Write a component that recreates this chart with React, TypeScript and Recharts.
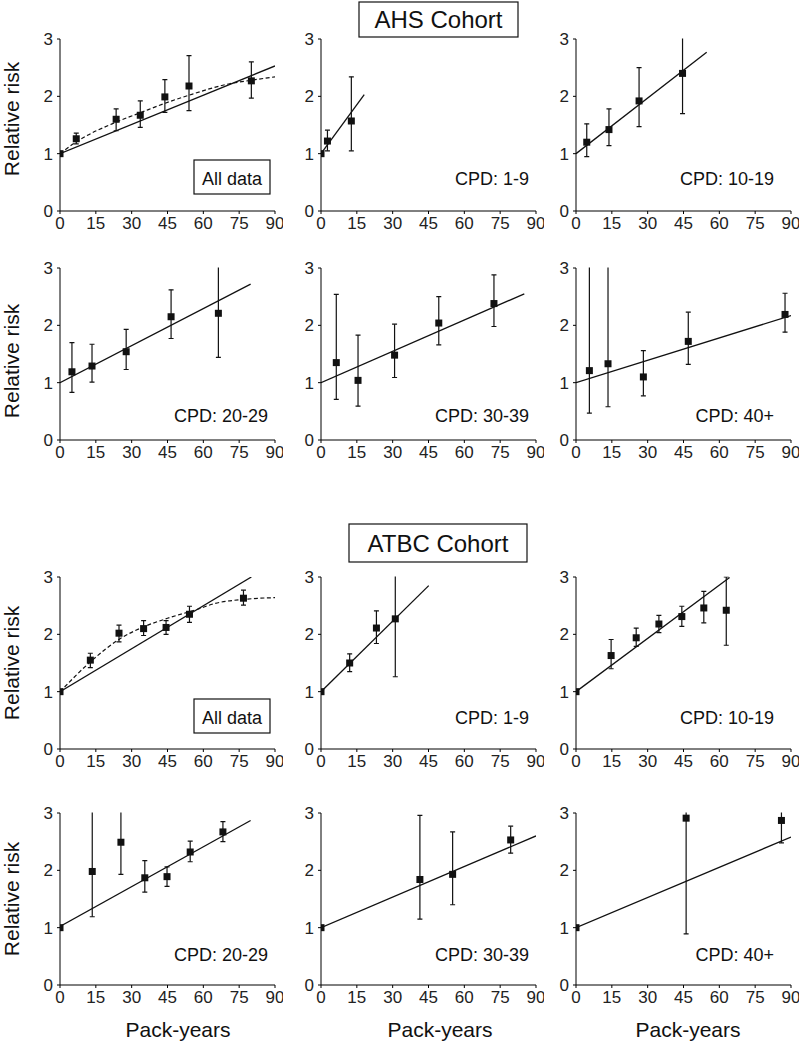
import React from "react";
import { ComposedChart, ErrorBar, Line, Scatter, XAxis, YAxis } from "recharts";

type Pt = { py: number; rr: number; lo?: number; hi?: number };
type XY = { py: number; rr: number };

// --- AHS cohort ---
const ahsAll: Pt[] = [
  { py: 6.8, rr: 1.26, lo: 1.17, hi: 1.36 },
  { py: 23.5, rr: 1.6, lo: 1.4, hi: 1.78 },
  { py: 33.6, rr: 1.67, lo: 1.46, hi: 1.92 },
  { py: 43.9, rr: 1.99, lo: 1.72, hi: 2.29 },
  { py: 54.0, rr: 2.18, lo: 1.75, hi: 2.71 },
  { py: 80.1, rr: 2.27, lo: 1.97, hi: 2.6 },
];
const ahsAllFit: XY[] = [{ py: 0, rr: 1 }, { py: 90, rr: 2.53 }];
const ahsAllCurve: XY[] = [
  { py: 0, rr: 1 }, { py: 7, rr: 1.21 }, { py: 23.5, rr: 1.55 }, { py: 34, rr: 1.72 },
  { py: 44, rr: 1.88 }, { py: 54, rr: 2.02 }, { py: 71, rr: 2.22 }, { py: 80, rr: 2.28 },
  { py: 90, rr: 2.34 },
];

const ahs1to9: Pt[] = [
  { py: 2.7, rr: 1.22, lo: 1.05, hi: 1.41 },
  { py: 12.7, rr: 1.57, lo: 1.05, hi: 2.34 },
];
const ahs1to9Fit: XY[] = [{ py: 0, rr: 1 }, { py: 18.1, rr: 2.03 }];

const ahs10to19: Pt[] = [
  { py: 4.5, rr: 1.2, lo: 0.95, hi: 1.52 },
  { py: 13.8, rr: 1.42, lo: 1.14, hi: 1.78 },
  { py: 26.4, rr: 1.92, lo: 1.47, hi: 2.5 },
  { py: 44.6, rr: 2.4, lo: 1.7, hi: 3.4 },
];
const ahs10to19Fit: XY[] = [{ py: 0, rr: 1 }, { py: 54.7, rr: 2.77 }];

const ahs20to29: Pt[] = [
  { py: 5.0, rr: 1.19, lo: 0.83, hi: 1.7 },
  { py: 13.4, rr: 1.29, lo: 1.01, hi: 1.67 },
  { py: 27.7, rr: 1.54, lo: 1.23, hi: 1.93 },
  { py: 46.5, rr: 2.15, lo: 1.77, hi: 2.62 },
  { py: 66.3, rr: 2.21, lo: 1.44, hi: 3.4 },
];
const ahs20to29Fit: XY[] = [{ py: 0, rr: 1 }, { py: 79.8, rr: 2.72 }];

const ahs30to39: Pt[] = [
  { py: 6.4, rr: 1.35, lo: 0.71, hi: 2.54 },
  { py: 15.5, rr: 1.04, lo: 0.59, hi: 1.83 },
  { py: 30.8, rr: 1.48, lo: 1.09, hi: 2.02 },
  { py: 49.3, rr: 2.04, lo: 1.66, hi: 2.5 },
  { py: 72.4, rr: 2.38, lo: 1.98, hi: 2.88 },
];
const ahs30to39Fit: XY[] = [{ py: 0, rr: 1 }, { py: 85.1, rr: 2.55 }];

const ahs40plus: Pt[] = [
  { py: 5.6, rr: 1.21, lo: 0.47, hi: 3.6 },
  { py: 13.4, rr: 1.33, lo: 0.58, hi: 3.6 },
  { py: 28.2, rr: 1.1, lo: 0.77, hi: 1.56 },
  { py: 47.0, rr: 1.72, lo: 1.32, hi: 2.23 },
  { py: 87.5, rr: 2.19, lo: 1.88, hi: 2.56 },
];
const ahs40plusFit: XY[] = [{ py: 0, rr: 1 }, { py: 90, rr: 2.17 }];

// --- ATBC cohort ---
const atbcAll: Pt[] = [
  { py: 12.7, rr: 1.55, lo: 1.42, hi: 1.67 },
  { py: 24.7, rr: 2.02, lo: 1.87, hi: 2.16 },
  { py: 35.0, rr: 2.1, lo: 1.98, hi: 2.24 },
  { py: 44.4, rr: 2.12, lo: 2.0, hi: 2.24 },
  { py: 54.2, rr: 2.35, lo: 2.21, hi: 2.49 },
  { py: 76.8, rr: 2.63, lo: 2.51, hi: 2.77 },
];
const atbcAllFit: XY[] = [{ py: 0, rr: 1 }, { py: 80.1, rr: 3.0 }];
const atbcAllCurve: XY[] = [
  { py: 0, rr: 1 }, { py: 13, rr: 1.53 }, { py: 25, rr: 1.92 }, { py: 35, rr: 2.13 },
  { py: 45, rr: 2.28 }, { py: 57, rr: 2.43 }, { py: 65, rr: 2.54 }, { py: 77, rr: 2.61 },
  { py: 90, rr: 2.64 },
];

const atbc1to9: Pt[] = [
  { py: 12.0, rr: 1.5, lo: 1.35, hi: 1.66 },
  { py: 23.2, rr: 2.11, lo: 1.84, hi: 2.41 },
  { py: 31.1, rr: 2.27, lo: 1.26, hi: 3.5 },
];
const atbc1to9Fit: XY[] = [{ py: 0, rr: 1 }, { py: 45.1, rr: 2.85 }];

const atbc10to19: Pt[] = [
  { py: 14.7, rr: 1.63, lo: 1.4, hi: 1.91 },
  { py: 25.2, rr: 1.94, lo: 1.79, hi: 2.11 },
  { py: 34.7, rr: 2.18, lo: 2.03, hi: 2.33 },
  { py: 44.3, rr: 2.31, lo: 2.14, hi: 2.49 },
  { py: 53.5, rr: 2.46, lo: 2.2, hi: 2.75 },
  { py: 62.9, rr: 2.42, lo: 1.81, hi: 3.0 },
];
const atbc10to19Fit: XY[] = [{ py: 0, rr: 1 }, { py: 64.3, rr: 2.99 }];

const atbc20to29: Pt[] = [
  { py: 13.5, rr: 1.98, lo: 1.19, hi: 3.5 },
  { py: 25.5, rr: 2.49, lo: 1.93, hi: 3.5 },
  { py: 35.5, rr: 1.87, lo: 1.62, hi: 2.17 },
  { py: 44.8, rr: 1.89, lo: 1.72, hi: 2.06 },
  { py: 54.5, rr: 2.32, lo: 2.15, hi: 2.51 },
  { py: 68.2, rr: 2.67, lo: 2.5, hi: 2.85 },
];
const atbc20to29Fit: XY[] = [{ py: 0, rr: 1.02 }, { py: 79.8, rr: 2.87 }];

const atbc30to39: Pt[] = [
  { py: 41.4, rr: 1.84, lo: 1.15, hi: 2.96 },
  { py: 55.1, rr: 1.93, lo: 1.4, hi: 2.67 },
  { py: 79.4, rr: 2.53, lo: 2.3, hi: 2.77 },
];
const atbc30to39Fit: XY[] = [{ py: 0, rr: 1 }, { py: 90, rr: 2.6 }];

const atbc40plus: Pt[] = [
  { py: 46.1, rr: 2.91, lo: 0.89, hi: 3.5 },
  { py: 86.0, rr: 2.87, lo: 2.48, hi: 3.5 },
];
const atbc40plusFit: XY[] = [{ py: 0, rr: 1 }, { py: 90, rr: 2.58 }];

const xTicks = [0, 15, 30, 45, 60, 75, 90];
const yTicks = [0, 1, 2, 3];

const FONT = '"Liberation Sans", Arial, Helvetica, sans-serif';
const colLeft = [60, 321, 576];
const rowTop = [39, 268, 577, 813];
const PLOT_W = 215;
const PLOT_H = 172;
const Y_W = 40;
const M_TOP = 10;
const M_RIGHT = 8;
const X_H = 30;

interface Panel {
  row: number;
  col: number;
  points: Pt[];
  fit: XY[];
  curve?: XY[];
  origin: boolean;
  label: string;
}

const panels: Panel[] = [
  { row: 0, col: 0, points: ahsAll, fit: ahsAllFit, curve: ahsAllCurve, origin: true, label: "" },
  { row: 0, col: 1, points: ahs1to9, fit: ahs1to9Fit, origin: true, label: "CPD: 1-9" },
  { row: 0, col: 2, points: ahs10to19, fit: ahs10to19Fit, origin: false, label: "CPD: 10-19" },
  { row: 1, col: 0, points: ahs20to29, fit: ahs20to29Fit, origin: false, label: "CPD: 20-29" },
  { row: 1, col: 1, points: ahs30to39, fit: ahs30to39Fit, origin: false, label: "CPD: 30-39" },
  { row: 1, col: 2, points: ahs40plus, fit: ahs40plusFit, origin: false, label: "CPD: 40+" },
  { row: 2, col: 0, points: atbcAll, fit: atbcAllFit, curve: atbcAllCurve, origin: true, label: "" },
  { row: 2, col: 1, points: atbc1to9, fit: atbc1to9Fit, origin: true, label: "CPD: 1-9" },
  { row: 2, col: 2, points: atbc10to19, fit: atbc10to19Fit, origin: true, label: "CPD: 10-19" },
  { row: 3, col: 0, points: atbc20to29, fit: atbc20to29Fit, origin: true, label: "CPD: 20-29" },
  { row: 3, col: 1, points: atbc30to39, fit: atbc30to39Fit, origin: true, label: "CPD: 30-39" },
  { row: 3, col: 2, points: atbc40plus, fit: atbc40plusFit, origin: true, label: "CPD: 40+" },
];

const labelRight = [268, 529, 774];
const labelBase = [185, 422, 724, 961];
const rrLabelMid = [119, 361, 663, 899];
const packMid = [178, 440, 688];

function Square(props: any) {
  const { cx, cy } = props;
  if (cx == null || cy == null) return null;
  return <rect x={cx - 3.5} y={cy - 3.5} width={7} height={7} fill="#111" />;
}

function SmallPanel({ p }: { p: Panel }) {
  const pts = p.points.map((d) => ({
    x: d.py,
    y: d.rr,
    err: d.lo != null && d.hi != null ? [d.rr - d.lo, d.hi - d.rr] : undefined,
  }));
  const fit = p.fit.map((d) => ({ x: d.py, y: d.rr }));
  const curve = p.curve ? p.curve.map((d) => ({ x: d.py, y: d.rr })) : null;
  const origin = p.origin ? [{ x: 0, y: 1 }] : [];
  const tickStyle = { fontSize: 17, fill: "#222", fontFamily: FONT };

  return (
    <div
      className="rr-panel"
      style={{
        position: "absolute",
        left: colLeft[p.col] - Y_W,
        top: rowTop[p.row] - M_TOP,
      }}
    >
      <ComposedChart
        width={Y_W + PLOT_W + M_RIGHT}
        height={M_TOP + PLOT_H + X_H}
        margin={{ top: M_TOP, right: M_RIGHT, left: 0, bottom: 0 }}
      >
        <XAxis
          type="number"
          dataKey="x"
          domain={[0, 90]}
          ticks={xTicks}
          interval={0}
          allowDataOverflow
          height={X_H}
          tickSize={3}
          tickMargin={3}
          stroke="#000"
          tick={tickStyle}
        />
        <YAxis
          type="number"
          dataKey="y"
          domain={[0, 3]}
          ticks={yTicks}
          interval={0}
          allowDataOverflow
          width={Y_W}
          tickSize={3}
          tickMargin={4}
          stroke="#000"
          tick={tickStyle}
        />
        {curve && (
          <Line
            data={curve}
            dataKey="y"
            type="monotone"
            stroke="#111"
            strokeWidth={1.2}
            strokeDasharray="4 2.5"
            dot={false}
            isAnimationActive={false}
          />
        )}
        <Line
          data={fit}
          dataKey="y"
          type="linear"
          stroke="#111"
          strokeWidth={1.3}
          dot={false}
          isAnimationActive={false}
        />
        {p.origin && (
          <Scatter data={origin} dataKey="y" shape={<Square />} isAnimationActive={false} />
        )}
        <Scatter data={pts} dataKey="y" shape={<Square />} isAnimationActive={false}>
          <ErrorBar dataKey="err" direction="y" width={2.5} stroke="#111" strokeWidth={1.2} />
        </Scatter>
      </ComposedChart>
    </div>
  );
}

export default function App() {
  return (
    <div
      style={{
        position: "absolute",
        left: 0,
        top: 0,
        width: 800,
        height: 1054,
        overflow: "hidden",
        background: "#fff",
        fontFamily: FONT,
      }}
    >
      {/* error bars that run past RR = 3 are cut at the top of the plot */}
      <style>{`.rr-panel .recharts-errorBars, .rr-panel .recharts-errorBar { clip-path: url(#rr-top-clip); }`}</style>
      <svg width={0} height={0} style={{ position: "absolute" }}>
        <defs>
          <clipPath id="rr-top-clip" clipPathUnits="userSpaceOnUse">
            <rect x={0} y={M_TOP - 0.5} width={1000} height={1000} />
          </clipPath>
        </defs>
      </svg>
      {panels.map((p, i) => (
        <SmallPanel key={i} p={p} />
      ))}
      <svg
        width={800}
        height={1054}
        style={{ position: "absolute", left: 0, top: 0, pointerEvents: "none" }}
        fontFamily={FONT}
      >
        {/* cohort titles */}
        <rect x={359} y={2} width={159} height={35} fill="#fff" stroke="#111" strokeWidth={1.2} />
        <text x={438.5} y={28} textAnchor="middle" fontSize={24} fill="#111">
          AHS Cohort
        </text>
        <rect x={349} y={524} width={178} height={38} fill="#fff" stroke="#111" strokeWidth={1.2} />
        <text x={438} y={552} textAnchor="middle" fontSize={24} fill="#111">
          ATBC Cohort
        </text>

        {/* "All data" boxes */}
        <rect x={194} y={160} width={76} height={34} fill="#fff" stroke="#111" strokeWidth={1.2} />
        <text x={232} y={185} textAnchor="middle" fontSize={18} fill="#111">
          All data
        </text>
        <rect x={194} y={699} width={76} height={34} fill="#fff" stroke="#111" strokeWidth={1.2} />
        <text x={232} y={724} textAnchor="middle" fontSize={18} fill="#111">
          All data
        </text>

        {panels
          .filter((p) => p.label)
          .map((p, i) => (
            <text
              key={i}
              x={labelRight[p.col]}
              y={labelBase[p.row]}
              textAnchor="end"
              fontSize={18}
              fill="#111"
            >
              {p.label}
            </text>
          ))}

        {rrLabelMid.map((cy, i) => (
          <text
            key={i}
            transform={`translate(19, ${cy}) rotate(-90)`}
            textAnchor="middle"
            fontSize={21}
            fill="#111"
          >
            Relative risk
          </text>
        ))}
        {packMid.map((cx, i) => (
          <text key={i} x={cx} y={1037} textAnchor="middle" fontSize={21} fill="#111">
            Pack-years
          </text>
        ))}
      </svg>
    </div>
  );
}
